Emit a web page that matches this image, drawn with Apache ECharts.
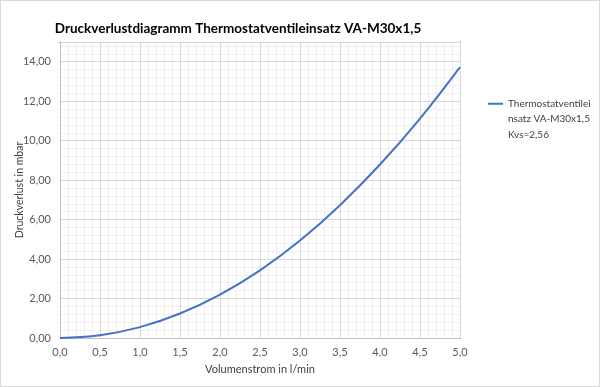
<!DOCTYPE html>
<html><head><meta charset="utf-8">
<script src="https://cdn.jsdelivr.net/npm/echarts@6/dist/echarts.min.js"></script>
<style>html,body{margin:0;padding:0;background:#fff}#c{width:598px;height:385px;border:1px solid #d9d9d9}</style>
</head><body><div id="c"></div>
<script>
const xValues = [0, 0.5, 1.0, 1.5, 2.0, 2.5, 3.0, 3.5, 4.0, 4.5, 5.0];
const pressureMbar = [0, 0.14, 0.55, 1.24, 2.2, 3.43, 4.94, 6.73, 8.79, 11.12, 13.73];
const seriesName = 'Thermostatventilei\nnsatz VA-M30x1,5\nKvs=2,56';
const titleText = 'Druckverlustdiagramm Thermostatventileinsatz VA-M30x1,5';
const xName = 'Volumenstrom in l/min';
const yName = 'Druckverlust in mbar';

const font = 'Lato, "Liberation Sans", Arial, sans-serif';
const chart = echarts.init(document.getElementById('c'));
chart.setOption({
  animation: false,
  title: {text: titleText, left: 232, textAlign: 'center', top: 16,
    textStyle: {fontFamily: font, fontSize: 13.5, fontWeight: 'bold', color: '#000'}},
  grid: {left: 59, top: 41, width: 400, height: 296, show: false, containLabel: false, outerBoundsMode: 'none'},
  legend: {left: 487, top: 64, padding: 0, orient: 'vertical', itemWidth: 15, itemHeight: 14,
    icon: 'path://M0,6L15,6L15,8L0,8Z',
    data: [seriesName],
    formatter: n => '\n\n' + n,
    textStyle: {fontFamily: font, fontSize: 10, color: '#404040', lineHeight: 15.5}},
  xAxis: [
    {type: 'value', min: 0, max: 5, interval: 0.5, z: 2,
      axisLine: {show: true, lineStyle: {color: '#bfbfbf'}}, axisTick: {show: false},
      splitLine: {show: true, lineStyle: {color: '#d9d9d9'}},
      axisLabel: {fontFamily: font, fontSize: 11, color: '#595959', margin: 9,
        formatter: v => v.toFixed(1).replace('.', ',')},
      name: xName, nameLocation: 'middle', nameGap: 26, nameMoveOverlap: false,
      nameTextStyle: {fontFamily: font, fontSize: 11, color: '#404040'}},
    {type: 'value', min: 0, max: 5, interval: 0.1, position: 'top', z: 1,
      axisLine: {show: true, onZero: false, lineStyle: {color: '#000'}}, axisTick: {show: false}, axisLabel: {show: false},
      splitLine: {show: true, lineStyle: {color: '#efefef'}}}
  ],
  yAxis: [
    {type: 'value', min: 0, max: 15, interval: 2, z: 2,
      axisLine: {show: true, lineStyle: {color: '#bfbfbf'}}, axisTick: {show: false},
      splitLine: {show: true, lineStyle: {color: '#d9d9d9'}},
      axisLabel: {fontFamily: font, fontSize: 11, color: '#595959', margin: 9, showMaxLabel: false,
        formatter: v => v.toFixed(2).replace('.', ',')},
      name: yName, nameLocation: 'middle', nameGap: 35, nameMoveOverlap: false,
      nameTextStyle: {fontFamily: font, fontSize: 10.5, color: '#404040'}},
    {type: 'value', min: 0, max: 15, interval: 0.4, position: 'right', z: 1,
      axisLine: {show: true, onZero: false, lineStyle: {color: '#000'}}, axisTick: {show: false}, axisLabel: {show: false},
      splitLine: {show: true, lineStyle: {color: '#efefef'}}}
  ],
  series: [{
    name: seriesName, type: 'line', xAxisIndex: 0, yAxisIndex: 0, z: 5,
    data: xValues.map((x, i) => [x, pressureMbar[i]]),
    smooth: 0.4, showSymbol: false, symbol: 'none',
    lineStyle: {color: '#4472c4', width: 2}, itemStyle: {color: '#4472c4'}
  }]
});
</script></body></html>
